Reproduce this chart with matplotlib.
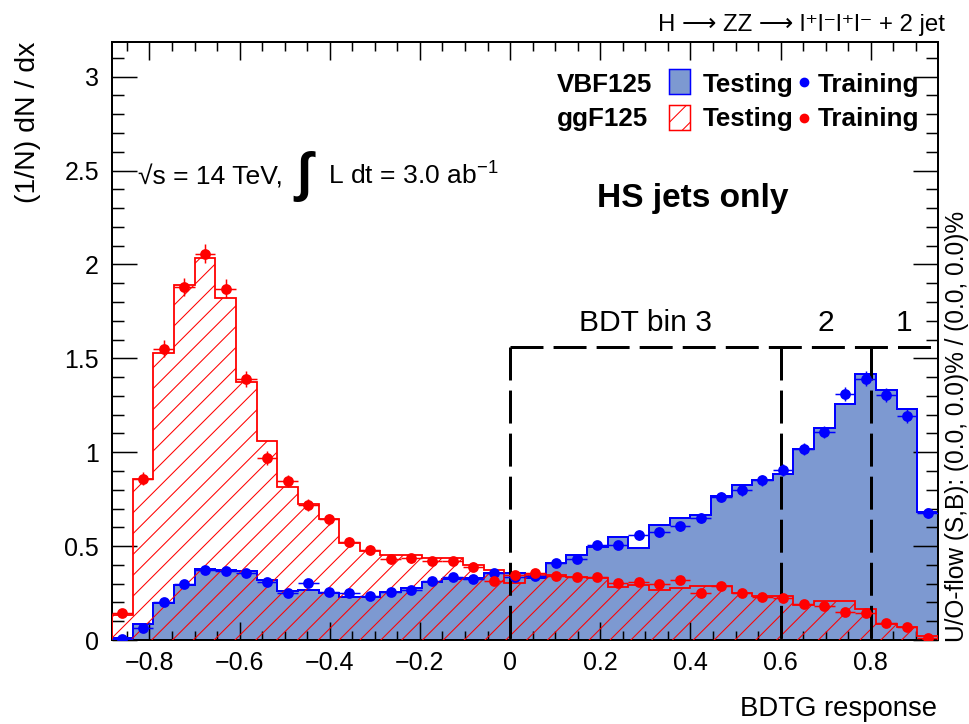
import numpy as np
import matplotlib
matplotlib.use("Agg")
import matplotlib.pyplot as plt
from matplotlib.ticker import MultipleLocator, FuncFormatter
from matplotlib.patches import Rectangle
from matplotlib.lines import Line2D

plt.rcParams['font.family'] = ['Liberation Sans', 'DejaVu Sans']
plt.rcParams['mathtext.fontset'] = 'custom'
plt.rcParams['mathtext.rm'] = 'Liberation Sans'
plt.rcParams['mathtext.it'] = 'Liberation Sans:italic'
plt.rcParams['mathtext.bf'] = 'Liberation Sans:bold'
plt.rcParams['hatch.linewidth'] = 0.6
plt.rcParams['lines.scale_dashes'] = False

DPI = 125
W, H = 969, 724
PT = 72.0 / DPI  # points per pixel

# ---- binning of the classifier output ----
XMIN, XMAX = -0.883, 0.949
NBINS = 40

# VBF125 (signal): testing histogram, training points and their errors
sig_test = [0.010, 0.083, 0.195, 0.292, 0.376, 0.372, 0.367, 0.319, 0.262, 0.266,
            0.248, 0.230, 0.230, 0.257, 0.275, 0.310, 0.323, 0.328, 0.355, 0.355,
            0.330, 0.408, 0.452, 0.496, 0.550, 0.488, 0.615, 0.651, 0.668, 0.766,
            0.824, 0.851, 0.883, 1.016, 1.129, 1.255, 1.415, 1.330, 1.229, 0.683]
sig_train = [0.005, 0.062, 0.200, 0.300, 0.372, 0.370, 0.355, 0.310, 0.248, 0.305,
             0.257, 0.248, 0.234, 0.257, 0.266, 0.315, 0.337, 0.323, 0.358, 0.337,
             0.340, 0.408, 0.430, 0.505, 0.505, 0.559, 0.576, 0.606, 0.651, 0.762,
             0.798, 0.851, 0.904, 1.016, 1.108, 1.309, 1.392, 1.303, 1.193, 0.677]
sig_err = [0.003, 0.010, 0.015, 0.018, 0.020, 0.020, 0.020, 0.018, 0.016, 0.018,
           0.016, 0.016, 0.016, 0.016, 0.017, 0.018, 0.019, 0.018, 0.019, 0.019,
           0.019, 0.021, 0.021, 0.023, 0.023, 0.025, 0.025, 0.025, 0.026, 0.028,
           0.029, 0.030, 0.031, 0.033, 0.034, 0.037, 0.038, 0.037, 0.035, 0.027]

# ggF125 (background): testing histogram, training points and their errors
bkg_test = [0.133, 0.856, 1.530, 1.890, 2.035, 1.823, 1.372, 1.060, 0.815, 0.723,
            0.642, 0.518, 0.475, 0.452, 0.452, 0.438, 0.434, 0.399, 0.372, 0.305,
            0.346, 0.346, 0.337, 0.328, 0.284, 0.293, 0.264, 0.275, 0.287, 0.287,
            0.248, 0.234, 0.234, 0.186, 0.209, 0.209, 0.163, 0.083, 0.071, 0.021]
bkg_train = [0.145, 0.860, 1.550, 1.880, 2.057, 1.870, 1.392, 0.970, 0.847, 0.720,
             0.642, 0.520, 0.480, 0.430, 0.434, 0.420, 0.420, 0.390, 0.315, 0.346,
             0.355, 0.342, 0.337, 0.333, 0.305, 0.307, 0.296, 0.319, 0.248, 0.287,
             0.248, 0.230, 0.221, 0.191, 0.181, 0.147, 0.142, 0.089, 0.071, 0.012]
bkg_err = [0.015, 0.035, 0.045, 0.050, 0.052, 0.050, 0.043, 0.036, 0.034, 0.031,
           0.029, 0.026, 0.025, 0.024, 0.024, 0.023, 0.023, 0.023, 0.020, 0.021,
           0.021, 0.021, 0.021, 0.021, 0.020, 0.020, 0.020, 0.020, 0.018, 0.019,
           0.018, 0.017, 0.017, 0.016, 0.015, 0.014, 0.014, 0.011, 0.010, 0.005]

# category boundaries on the BDT output
cut_edges = [0.0, 0.6, 0.8]
cut_height = 1.56
cat_labels = ['BDT bin 3', '2', '1']
cat_label_y = 1.69

SIG_FILL = '#7d99d1'
SIG_LINE = '#0000ff'
BKG_LINE = '#ff0000'

fig = plt.figure(figsize=(W / DPI, H / DPI), dpi=DPI)
ax = fig.add_axes([112 / W, 1 - 640 / H, (938 - 112) / W, (640 - 41.7) / H])

edges = np.linspace(XMIN, XMAX, NBINS + 1)
centers = 0.5 * (edges[:-1] + edges[1:])
binw = edges[1] - edges[0]

ax.stairs(sig_test, edges, fill=True, facecolor=SIG_FILL, edgecolor='none', zorder=1)
ax.stairs(sig_test, edges, color=SIG_LINE, lw=2 * PT, zorder=2)
ax.stairs(bkg_test, edges, fill=True, facecolor='none', edgecolor=BKG_LINE,
          hatch='//', lw=0, zorder=3)
ax.stairs(bkg_test, edges, color=BKG_LINE, lw=1.8 * PT, zorder=4)

ax.errorbar(centers, sig_train, xerr=binw / 2, yerr=sig_err, fmt='o',
            color=SIG_LINE, ms=9 * PT, elinewidth=1.5 * PT, capsize=0, zorder=6)
ax.errorbar(centers, bkg_train, xerr=binw / 2, yerr=bkg_err, fmt='o',
            color=BKG_LINE, ms=9 * PT, elinewidth=1.5 * PT, capsize=0, zorder=7)

# category box
dash = dict(color='black', lw=3 * PT, dashes=(19, 5.8), zorder=5, solid_capstyle='butt')
ax.plot([cut_edges[0], XMAX], [cut_height, cut_height], **dash)
for c in cut_edges:
    ax.plot([c, c], [cut_height, 0], **dash)
cat_bounds = cut_edges + [XMAX]
for i, lab in enumerate(cat_labels):
    xm = 0.5 * (cat_bounds[i] + cat_bounds[i + 1])
    ax.text(xm, cat_label_y, lab, ha='center', va='center', fontsize=30 * PT)

ax.set_xlim(XMIN, XMAX)
ax.set_ylim(0, 3.186)

ax.xaxis.set_major_locator(MultipleLocator(0.2))
ax.xaxis.set_minor_locator(MultipleLocator(0.05))
ax.yaxis.set_major_locator(MultipleLocator(0.5))
ax.yaxis.set_minor_locator(MultipleLocator(0.1))
fmt = FuncFormatter(lambda v, p: ('%g' % round(v, 6)).replace('-', '\u2212'))
ax.xaxis.set_major_formatter(fmt)
ax.yaxis.set_major_formatter(fmt)

ax.tick_params(which='both', direction='in', top=True, right=True, width=1.5 * PT,
               labelsize=25 * PT)
ax.xaxis.set_tick_params(which='major', length=18 * PT, pad=6.3)
ax.xaxis.set_tick_params(which='minor', length=9 * PT)
ax.yaxis.set_tick_params(which='major', length=25 * PT, pad=7.5)
ax.yaxis.set_tick_params(which='minor', length=12 * PT)
for s in ax.spines.values():
    s.set_linewidth(2 * PT)


def ftext(x, y, s, **kw):
    return fig.text(x / W, 1 - y / H, s, **kw)


ftext(937, 716, 'BDTG response', ha='right', va='baseline', fontsize=27.5 * PT)
ftext(28.5, 42, '(1/N) dN / dx', ha='center', va='top', rotation=90, fontsize=28.5 * PT)
ftext(945, 31, 'H \u27f6 ZZ \u27f6 l\u207al\u207bl\u207al\u207b + 2 jet',
      ha='right', va='baseline', fontsize=24 * PT,
      family=['Liberation Sans', 'DejaVu Sans'])

ftext(138, 185, '\u221as = 14 TeV,', ha='left', va='baseline', fontsize=26.5 * PT)
ftext(296, 176, '\u222b', ha='left', va='center', fontsize=54 * PT, fontweight='bold')
ftext(328, 185, 'L dt = 3.0 ab$^{-1}$', ha='left', va='baseline', fontsize=26.5 * PT)

ftext(597, 207, 'HS jets only', ha='left', va='baseline', fontsize=33.5 * PT,
      fontweight='bold')

ftext(957, 642, 'U/O-flow (S,B): (0.0, 0.0)% / (0.0, 0.0)%', ha='center', va='bottom',
      rotation=90, fontsize=24.5 * PT)

# legend
leg_bold = dict(ha='left', va='baseline', fontsize=26 * PT, fontweight='bold')
ftext(557, 92, 'VBF125', **leg_bold)
ftext(703, 92, 'Testing', **leg_bold)
ftext(818, 92, 'Training', **leg_bold)
ftext(557, 126, 'ggF125', **leg_bold)
ftext(703, 126, 'Testing', **leg_bold)
ftext(818, 126, 'Training', **leg_bold)
fig.add_artist(Rectangle((669 / W, 1 - 94 / H), 21 / W, 25 / H, transform=fig.transFigure,
                         facecolor=SIG_FILL, edgecolor=SIG_LINE, lw=1.5 * PT))
fig.add_artist(Rectangle((669 / W, 1 - 130 / H), 21 / W, 25 / H, transform=fig.transFigure,
                         facecolor='white', edgecolor=BKG_LINE, hatch='//', lw=1.5 * PT))
fig.add_artist(Line2D([804 / W], [1 - 82 / H], marker='o', ms=8 * PT, color=SIG_LINE,
                      transform=fig.transFigure))
fig.add_artist(Line2D([804 / W], [1 - 118 / H], marker='o', ms=8 * PT, color=BKG_LINE,
                      transform=fig.transFigure))

fig.savefig('out.png', dpi=DPI)
